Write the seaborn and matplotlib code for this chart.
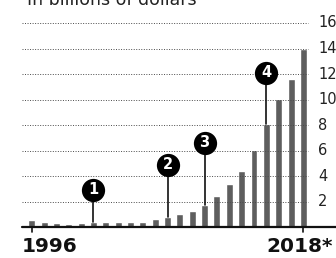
import matplotlib
matplotlib.use("Agg")
import matplotlib.pyplot as plt
import seaborn as sns
import pandas as pd

years = [str(y) for y in range(1996, 2019)]
values = [0.55, 0.44, 0.31, 0.29, 0.36, 0.39, 0.42, 0.44, 0.44, 0.44, 0.68, 0.78,
          1.07, 1.28, 1.74, 2.42, 3.36, 4.43, 6.04, 8.07, 10.05, 11.6, 13.93]
y_ticks = [2, 4, 6, 8, 10, 12, 14, 16]
x_labels = ["1996", "2018*"]
title = "In billions of dollars"
annot_years = ["2001", "2007", "2010", "2015"]
annot_labels = ["1", "2", "3", "4"]
annot_heights = [2.93, 4.88, 6.62, 12.1]

sns.set_theme(style="white")
plt.rcParams['font.family'] = ['DejaVu Sans']

W, H = 336, 258
fig = plt.figure(figsize=(W / 100, H / 100), dpi=100)
base_px = 227.3
left_px = 22
ax = fig.add_axes([left_px / W, (H - base_px) / H, (W - left_px) / W, base_px / H])

df = pd.DataFrame({"year": years, "value": values})
sns.barplot(data=df, x="year", y="value", color="#5e5e5e", saturation=1,
            width=0.56, ax=ax, zorder=2)

px_per_bar = 12.35
x0 = -(31.7 - left_px) / px_per_bar
x1 = x0 + (W - left_px) / px_per_bar
ax.set_xlim(x0, x1)
ax.set_ylim(0, base_px / 12.77)

grid_end = (308 - 31.7) / px_per_bar
for t in y_ticks:
    ax.hlines(t, x0, grid_end, colors="#4a4a4a", linestyles=(0, (1, 1.6)),
              linewidth=0.7, zorder=3)
    ax.text(grid_end + (318 - 308) / px_per_bar, t, str(t), ha="left", va="center",
            fontsize=10.5, color="#222222")

ax.axhline(0, color="#111111", linewidth=1.6, zorder=4, clip_on=False)

for s in ax.spines.values():
    s.set_visible(False)
ax.set_xticks([])
ax.set_yticks([])
ax.set_xlabel("")
ax.set_ylabel("")

# tick marks at ends
for i in [0, len(years) - 1]:
    ax.plot([i, i], [0, -0.4], color="#111111", linewidth=1.2, clip_on=False, zorder=4)

ax.text(x0, -0.75, x_labels[0], ha="left", va="top", fontsize=14.5,
        fontweight="bold", color="#111111")
ax.text(x1 - 0.25, -0.75, x_labels[1], ha="right", va="top", fontsize=14.5,
        fontweight="bold", color="#111111")

for yr, lab, hgt in zip(annot_years, annot_labels, annot_heights):
    i = years.index(yr)
    ax.plot([i, i], [values[i], hgt], color="#111111", linewidth=1.2, zorder=5)
    ax.scatter([i], [hgt], s=280, color="#000000", zorder=6, linewidths=0)
    ax.text(i, hgt, lab, ha="center", va="center", color="white",
            fontsize=10.5, fontweight="bold", zorder=7)

fig.text(27 / W, 1 - 5 / H, title, ha="left", va="baseline", fontsize=12.5,
         color="#222222")

fig.savefig("out.png", dpi=100)
